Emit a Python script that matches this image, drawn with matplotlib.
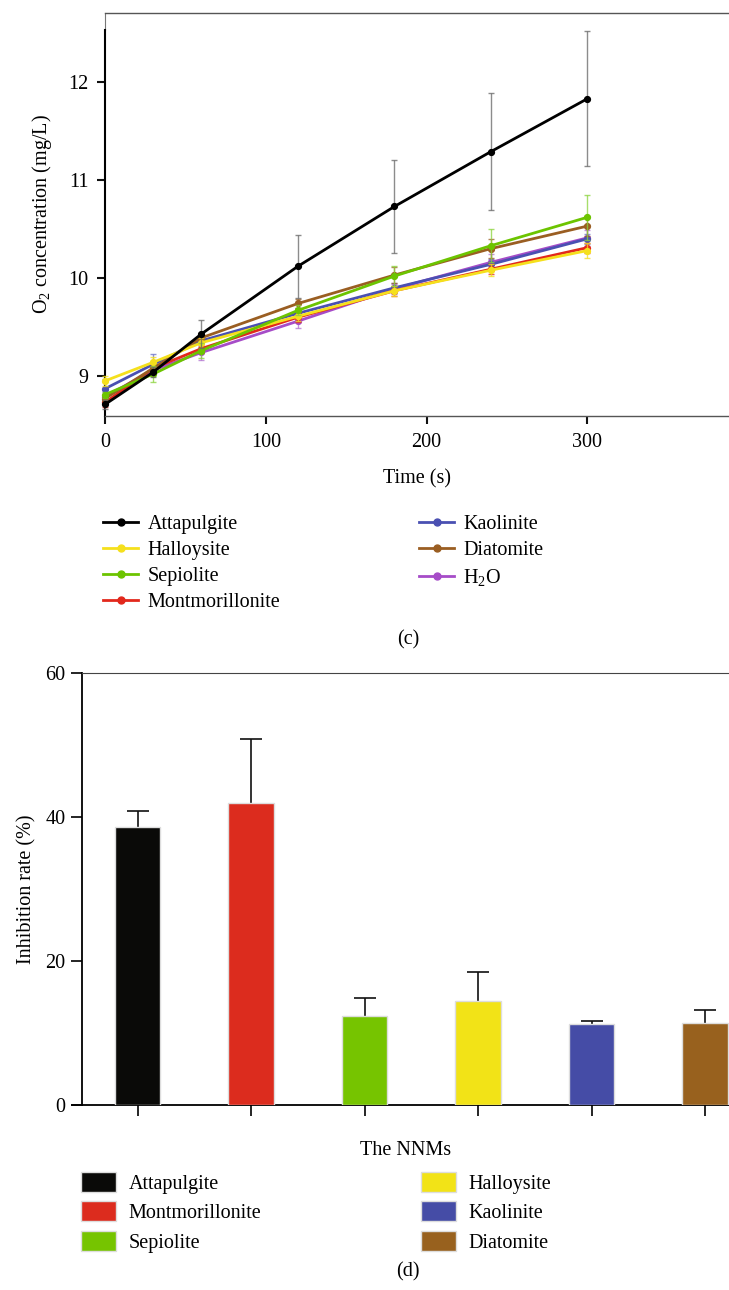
import matplotlib
matplotlib.use("Agg")
import matplotlib.pyplot as plt
from matplotlib.lines import Line2D
from matplotlib.patches import Patch

plt.rcParams['font.family'] = ['Liberation Serif', 'DejaVu Serif']
plt.rcParams['mathtext.fontset'] = 'custom'
plt.rcParams['mathtext.rm'] = 'Liberation Serif'
plt.rcParams['mathtext.it'] = 'Liberation Serif:italic'
plt.rcParams['font.size'] = 14.5

# ---- panel (c): O2 concentration over time ----
time_s = [0, 30, 60, 120, 180, 240, 300]
series_names = ['Attapulgite', 'Halloysite', 'Sepiolite', 'Montmorillonite',
                'Kaolinite', 'Diatomite', 'H$_2$O']
attapulgite = [8.71, 9.04, 9.43, 10.12, 10.73, 11.29, 11.83]
halloysite = [8.95, 9.14, 9.34, 9.61, 9.87, 10.08, 10.28]
sepiolite = [8.81, 9.02, 9.26, 9.67, 10.02, 10.33, 10.62]
montmorillonite = [8.73, 9.08, 9.28, 9.60, 9.87, 10.09, 10.31]
kaolinite = [8.87, 9.12, 9.36, 9.64, 9.90, 10.14, 10.40]
diatomite = [8.77, 9.08, 9.39, 9.74, 10.03, 10.30, 10.53]
h2o = [8.79, 9.06, 9.24, 9.56, 9.89, 10.16, 10.41]

attapulgite_err = [0.05, 0.05, 0.14, 0.32, 0.47, 0.60, 0.69]
halloysite_err = [0.05, 0.05, 0.05, 0.05, 0.05, 0.06, 0.08]
sepiolite_err = [0.03, 0.08, 0.08, 0.05, 0.10, 0.17, 0.23]
montmorillonite_err = [0.05, 0.05, 0.05, 0.05, 0.05, 0.05, 0.05]
kaolinite_err = [0.10, 0.10, 0.05, 0.05, 0.05, 0.05, 0.05]
diatomite_err = [0.05, 0.05, 0.05, 0.05, 0.08, 0.10, 0.10]
h2o_err = [0.05, 0.05, 0.08, 0.07, 0.05, 0.08, 0.08]

line_colors = ['#000000', '#f5e01c', '#6cc400', '#e2281c', '#4a50b2', '#9a5e22', '#a64cc8']
err_colors = ['#666666', '#f5e01c', '#8ad43a', '#e2281c', '#6a70c8', '#9a5e22', '#b070d0']

# ---- panel (d): inhibition rate ----
nnm_names = ['Attapulgite', 'Montmorillonite', 'Sepiolite', 'Halloysite', 'Kaolinite', 'Diatomite']
inhibition = [38.6, 42.0, 12.4, 14.4, 11.2, 11.4]
inhibition_err = [2.3, 8.8, 2.5, 4.1, 0.45, 1.75]
bar_colors = ['#0a0a08', '#dc2c1e', '#76c400', '#f2e317', '#454ca6', '#98611e']

W, H = 729, 1290
fig = plt.figure(figsize=(W / 100, H / 100), dpi=100)


def box(l, t, r, b):
    return [l / W, 1 - b / H, (r - l) / W, (b - t) / H]


# top chart
ax1 = fig.add_axes(box(105, 13, 729, 416))
ys = [attapulgite, halloysite, sepiolite, montmorillonite, kaolinite, diatomite, h2o]
errs = [attapulgite_err, halloysite_err, sepiolite_err, montmorillonite_err,
        kaolinite_err, diatomite_err, h2o_err]
zorders = [10, 7, 8, 5, 4, 6, 3]
for name, y, e, c, ec, z in zip(series_names, ys, errs, line_colors, err_colors, zorders):
    ax1.errorbar(time_s, y, yerr=e, fmt='none', ecolor=ec, elinewidth=1.0,
                 capsize=2.5, capthick=1.0, alpha=0.75, zorder=z - 0.5, clip_on=False)
    ax1.plot(time_s, y, '-o', color=c, lw=2.0, ms=4.2, label=name, zorder=z, clip_on=False)

ax1.set_xlim(0, 388)
ax1.set_ylim(8.592, 12.704)
ax1.set_xticks([0, 100, 200, 300])
ax1.set_yticks([9, 10, 11, 12])
for s in ['top', 'bottom']:
    ax1.spines[s].set_color('#555555')
    ax1.spines[s].set_linewidth(1.0)
ax1.spines['right'].set_visible(False)
ax1.spines['left'].set_linewidth(1.5)
ax1.spines['left'].set_bounds(8.592, 12.53)
# thin grey frame piece above the thick y axis
ax1.plot([0, 0], [12.53, 12.704], color='#777777', lw=0.8, clip_on=False)
ax1.tick_params(axis='both', direction='out', length=6, width=1.5, color='#111111', pad=6)
ax1.set_xlabel('Time (s)', labelpad=13)
ax1.set_ylabel('O$_2$ concentration (mg/L)', labelpad=10)

handles = [Line2D([0], [0], color=c, lw=2.0, marker='o', ms=5) for c in line_colors]
leg_kw = dict(frameon=False, handlelength=1.75, handletextpad=0.45, labelspacing=0.34,
              borderaxespad=0, borderpad=0, loc='upper left')
fig.legend(handles[:4], series_names[:4], bbox_to_anchor=(103 / W, 1 - 515 / H), **leg_kw)
fig.legend(handles[4:], series_names[4:], bbox_to_anchor=(419 / W, 1 - 515 / H), **leg_kw)
fig.text(408 / W, 1 - 640 / H, '(c)', ha='center', va='center')

# bottom chart
ax2 = fig.add_axes(box(82, 673, 729, 1105))
xpos = list(range(len(nnm_names)))
ax2.errorbar(xpos, inhibition, yerr=inhibition_err, fmt='none',
             ecolor='#111111', elinewidth=1.2, capsize=8, capthick=1.2, zorder=2)
ax2.bar(xpos, inhibition, width=0.4, color=bar_colors, edgecolor='#dddddd', linewidth=1.0, zorder=3)
ax2.set_xlim(-0.49, 5.21)
ax2.set_ylim(0, 60)
ax2.set_yticks([0, 20, 40, 60])
ax2.set_xticks(xpos)
ax2.set_xticklabels([])
ax2.spines['right'].set_visible(False)
ax2.spines['top'].set_color('#444444')
for s in ['left', 'bottom']:
    ax2.spines[s].set_linewidth(1.3)
ax2.tick_params(axis='both', direction='out', length=8, width=1.2, pad=4)
ax2.set_xlabel('The NNMs', labelpad=14)
ax2.set_ylabel('Inhibition rate (%)', labelpad=6)
# x axis line reaching a little left of the y axis
ax2.plot([-10 / 113.5 - 0.49, -0.49], [0, 0], color='black', lw=1.3, clip_on=False)

bar_handles = [Patch(facecolor=c, edgecolor='#dddddd') for c in bar_colors]
bleg_kw = dict(frameon=False, handlelength=1.75, handleheight=1.15, handletextpad=0.6,
               labelspacing=0.38, borderaxespad=0, borderpad=0, loc='upper left')
fig.legend(bar_handles[:3], nnm_names[:3], bbox_to_anchor=(81 / W, 1 - 1172 / H), **bleg_kw)
fig.legend(bar_handles[3:], nnm_names[3:], bbox_to_anchor=(421 / W, 1 - 1172 / H), **bleg_kw)
fig.text(408 / W, 1 - 1272 / H, '(d)', ha='center', va='center')

fig.savefig('out.png', dpi=100)
